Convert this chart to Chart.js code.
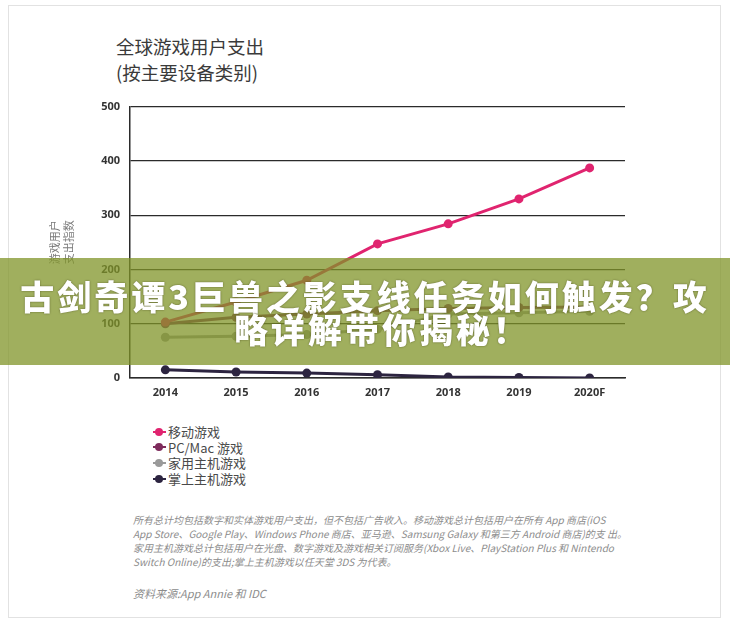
<!DOCTYPE html>
<html>
<head>
<meta charset="utf-8">
<script src="https://cdn.jsdelivr.net/npm/chart.js@4"></script>
<style>
    html, body { margin: 0; padding: 0; background: #fff; }
    body { width: 730px; height: 627px; position: relative; overflow: hidden; font-family: "Noto Sans CJK SC", "Noto Sans", sans-serif; }
    .card { position: absolute; left: 8px; top: 5px; width: 713px; height: 613px; border: 1px solid #e2e2e2; box-sizing: border-box; }
    .title { position: absolute; left: 116px; top: 33px; font-size: 18.5px; line-height: 26px; color: #3a3a3a; }
    #chartBox { position: absolute; left: 40px; top: 90px; width: 600px; height: 320px; }
    #legend { position: absolute; left: 153px; top: 424px; font-size: 13px; color: #4a4a4a; }
    #legend .item { height: 15.6px; line-height: 15.6px; display: flex; align-items: center; }
    #legend .mark { position: relative; width: 13px; height: 10px; margin-right: 2px; }
    #legend .mark i { position: absolute; left: 0; right: 0; top: 4px; height: 2px; }
    #legend .mark b { position: absolute; left: 2px; top: 1px; width: 8px; height: 8px; border-radius: 50%; }
    .note { position: absolute; left: 133px; top: 513px; font-size: 10px; line-height: 14px; color: #8c8c8c; font-style: italic; white-space: nowrap; }
    .source { position: absolute; left: 133px; top: 585px; font-size: 11px; color: #8c8c8c; font-style: italic; }
    .banner { position: absolute; left: 0; top: 258px; width: 730px; height: 107px; background: rgba(128, 148, 40, 0.75); z-index: 5; }
    .banner div { position: absolute; left: 0; width: 730px; text-align: center; color: #fff; font-weight: 900; font-size: 34px; line-height: 34px; letter-spacing: 3px; text-shadow: 0 0 2px rgba(60, 60, 20, 0.7); }
</style>
</head>
<body>
<div class="card"></div>
<div class="title">全球游戏用户支出<br>(按主要设备类别)</div>
<div id="chartBox"><canvas id="chart"></canvas></div>
<div id="legend"></div>
<div class="note">所有总计均包括数字和实体游戏用户支出，但不包括广告收入。移动游戏总计包括用户在所有 App 商店(iOS<br>App Store、Google Play、Windows Phone 商店、亚马逊、Samsung Galaxy 和第三方 Android 商店)的支 出。<br>家用主机游戏总计包括用户在光盘、数字游戏及游戏相关订阅服务(Xbox Live、PlayStation Plus 和 Nintendo<br>Switch Online)的支出;掌上主机游戏以任天堂 3DS 为代表。</div>
<div class="source">资料来源:App Annie 和 IDC</div>
<div class="banner">
    <div style="top: 21px;">古剑奇谭3巨兽之影支线任务如何触发？攻</div>
    <div style="top: 54px; left: 17px;">略详解带你揭秘！</div>
</div>
<script>
// chart data
const years = ['2014', '2015', '2016', '2017', '2018', '2019', '2020F'];
const yTicks = [0, 100, 200, 300, 400, 500];
const seriesNames = ['移动游戏', 'PC/Mac 游戏', '家用主机游戏', '掌上主机游戏'];
const mobile = [103, 140, 180, 247, 284, 330, 387];
const pcMac = [100, 112, 118, 124, 128, 130, 131];
const homeConsole = [75, 77, 80, 90, 118, 120, 123];
const handheld = [15, 11, 9, 6, 2, 1, 0];

const colors = ['#e0246f', '#7e2b5c', '#9a9a9a', '#2c2440'];
const values = [mobile, pcMac, homeConsole, handheld];

const datasets = seriesNames.map((name, i) => ({
    label: name,
    data: values[i],
    borderColor: colors[i],
    backgroundColor: colors[i],
    pointBackgroundColor: colors[i],
    pointBorderColor: colors[i],
    borderWidth: 3,
    pointRadius: 4.5,
    pointBorderWidth: 0,
    tension: 0
}));

const gridColor = '#2b2b2b';
const tickFont = { family: '"Open Sans", sans-serif', size: 11, weight: 'bold' };

new Chart(document.getElementById('chart'), {
    type: 'line',
    data: { labels: years, datasets: datasets },
    options: {
        responsive: true,
        maintainAspectRatio: false,
        animation: false,
        layout: { padding: { top: 16, right: 15, left: 0, bottom: 0 } },
        plugins: {
            legend: { display: false },
            tooltip: { enabled: false }
        },
        scales: {
            x: {
                offset: true,
                grid: { display: false, drawTicks: false },
                border: { display: true, color: gridColor, width: 1.5 },
                ticks: { color: '#333', font: tickFont, padding: 8 },
                afterFit: (scale) => { scale.height = 32; }
            },
            y: {
                min: 0,
                max: 500,
                afterBuildTicks: (scale) => { scale.ticks = yTicks.map(v => ({ value: v })); },
                grid: { color: gridColor, lineWidth: 1.3, drawTicks: false },
                border: { display: true, color: gridColor, width: 1.5 },
                ticks: { color: '#333', font: tickFont, padding: 10 },
                title: {
                    display: true,
                    text: ['游戏用户', '支出指数'],
                    color: '#7a7a7a',
                    font: { family: '"Noto Sans CJK SC", sans-serif', size: 11, lineHeight: 1.25 },
                    padding: { top: 8, bottom: 0 }
                },
                afterFit: (scale) => { scale.width = 90; }
            }
        }
    }
});

// legend built from the same series
const legend = document.getElementById('legend');
seriesNames.forEach((name, i) => {
    const row = document.createElement('div');
    row.className = 'item';
    row.innerHTML = `<span class="mark"><i style="background:${colors[i]}"></i><b style="background:${colors[i]}"></b></span><span>${name}</span>`;
    legend.appendChild(row);
});
</script>
</body>
</html>
